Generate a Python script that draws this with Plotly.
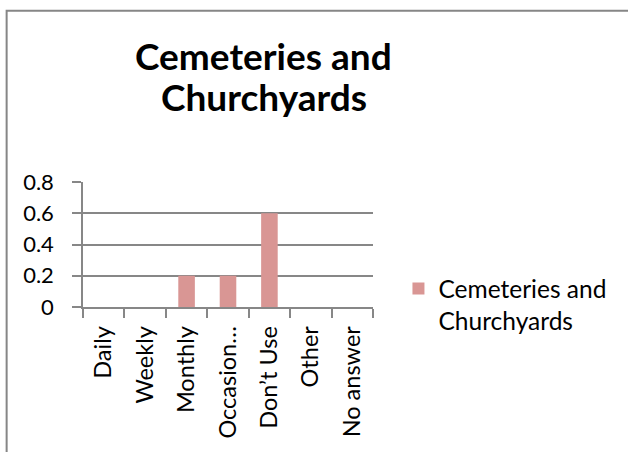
import plotly.graph_objects as go

categories = ["Daily", "Weekly", "Monthly", "Occasion\u2026", "Don\u2019t Use", "Other", "No answer"]
values = [0, 0, 0.2, 0.2, 0.6, 0, 0]
series_name = "Cemeteries and<br>Churchyards"
title_lines = ["Cemeteries and", "Churchyards"]
y_ticks = [0, 0.2, 0.4, 0.6, 0.8]
y_tick_labels = ["0", "0.2", "0.4", "0.6", "0.8"]

W, H = 628, 452
L, R, T, B = 83, 373.5, 181.5, 307
font_family = "Lato, Carlito, Calibri, sans-serif"
grid_col = "#878787"

fig = go.Figure()
fig.add_trace(go.Bar(
    x=categories, y=values, name=series_name,
    marker=dict(color="#d99694", line=dict(width=0)),
    width=0.4, showlegend=True,
))

def px_x(p):
    return (p - L) / (R - L)

def px_y(p):
    return (B - p) / (B - T)

annotations = []
for line, yc in zip(title_lines, [54, 95.5]):
    annotations.append(dict(text=line, xref="paper", yref="paper", x=px_x(264), y=px_y(yc),
                            xanchor="center", yanchor="middle", showarrow=False,
                            font=dict(size=37, family=font_family, weight="bold", color="black")))

fig.update_layout(
    width=W, height=H,
    margin=dict(l=L, r=W - R, t=T, b=H - B, pad=0),
    paper_bgcolor="white", plot_bgcolor="white",
    font=dict(family=font_family, color="black", size=22),
    annotations=annotations,
    showlegend=True,
    legend=dict(x=px_x(399), xanchor="left", y=px_y(266), yanchor="top",
                font=dict(size=24.5, family=font_family, color="black"), bgcolor="rgba(0,0,0,0)",
                itemwidth=30, tracegroupgap=0, valign="top"),
    bargap=0.6,
    xaxis=dict(type="category", tickson="boundaries", ticks="outside", ticklen=9,
               tickcolor=grid_col, tickwidth=1.5, showline=True, linecolor=grid_col, linewidth=1.5,
               showgrid=False, tickangle=-90, tickfont=dict(size=23.5, family=font_family),
               ticklabelstandoff=8, range=[-0.5, 6.5], fixedrange=True),
    yaxis=dict(range=[0, 0.8], tickvals=y_ticks, ticktext=y_tick_labels, ticks="outside",
               ticklen=9, tickcolor=grid_col, tickwidth=1.5, showline=True, linecolor=grid_col,
               linewidth=1.5, showgrid=True, gridcolor=grid_col, gridwidth=1.5, zeroline=False,
               tickfont=dict(size=22, family=font_family), ticklabelstandoff=14, fixedrange=True),
    shapes=[dict(type="rect", xref="paper", yref="paper",
                 x0=px_x(6.5), x1=px_x(W + 10), y0=px_y(H + 10), y1=px_y(9.5),
                 line=dict(color="#868686", width=2), fillcolor="rgba(0,0,0,0)", layer="below")],
)

fig.write_html("out.html", config={"displayModeBar": False},
               post_script="document.body.style.margin='0px';")
